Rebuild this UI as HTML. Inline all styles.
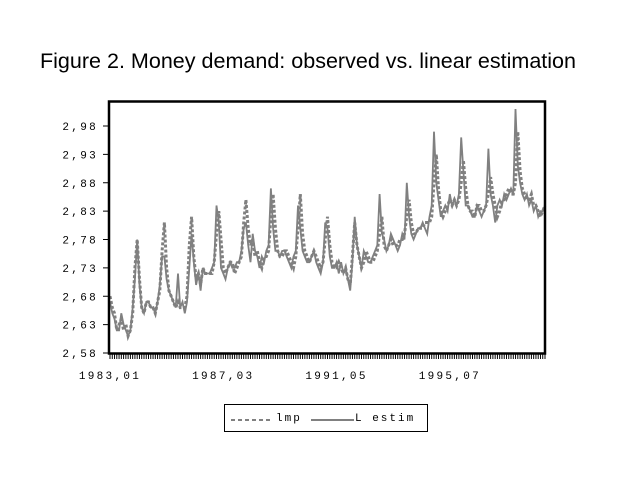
<!DOCTYPE html>
<html><head><meta charset="utf-8"><style>
html,body{margin:0;padding:0;background:#fff;}
svg{display:block;}
</style></head><body>
<svg id="chart" width="637" height="502" viewBox="0 0 637 502" xmlns="http://www.w3.org/2000/svg">
<text x="40" y="68" font-family="Liberation Sans, sans-serif" font-size="21.5" textLength="536" lengthAdjust="spacingAndGlyphs" fill="#000">Figure 2. Money demand: observed vs. linear estimation</text>
<g id="ticks"></g>
<g id="series"></g>
<rect x="109" y="101.5" width="436" height="252" fill="none" stroke="#000" stroke-width="2.5"/>
<g>
<rect x="224.5" y="404.5" width="203" height="27" fill="#fff" stroke="#000" stroke-width="1"/>
<line x1="231" y1="420" x2="272" y2="420" stroke="#808080" stroke-width="2" stroke-dasharray="4,3"/>
<text x="276" y="421" font-family="Liberation Mono, monospace" font-size="11" letter-spacing="2" fill="#000">lmp</text>
<line x1="311" y1="420" x2="354" y2="420" stroke="#808080" stroke-width="2"/>
<text x="355" y="421" font-family="Liberation Mono, monospace" font-size="11" letter-spacing="2" fill="#000">L estim</text>
</g>
</svg>
<script>
const yTicks=[2.58,2.63,2.68,2.73,2.78,2.83,2.88,2.93,2.98];
const xLabels=["1983,01","1987,03","1991,05","1995,07"];
const xLabelIdx=[0,50,100,150];
const lmp=[2.68,2.66,2.65,2.62,2.63,2.64,2.62,2.63,2.61,2.62,2.65,2.73,
2.78,2.71,2.66,2.65,2.67,2.67,2.66,2.66,2.65,2.67,2.69,2.76,
2.81,2.73,2.69,2.68,2.67,2.66,2.67,2.66,2.66,2.66,2.68,2.77,
2.82,2.75,2.71,2.72,2.70,2.73,2.72,2.72,2.72,2.72,2.74,2.79,
2.83,2.78,2.73,2.72,2.73,2.74,2.74,2.72,2.73,2.74,2.75,2.81,
2.85,2.80,2.77,2.78,2.75,2.76,2.74,2.73,2.75,2.75,2.76,2.82,
2.86,2.80,2.76,2.75,2.75,2.76,2.76,2.75,2.74,2.73,2.75,2.80,
2.86,2.79,2.76,2.75,2.74,2.75,2.76,2.75,2.74,2.73,2.74,2.78,
2.82,2.77,2.74,2.73,2.73,2.74,2.73,2.72,2.73,2.71,2.70,2.75,
2.81,2.77,2.75,2.73,2.74,2.76,2.75,2.74,2.74,2.75,2.76,2.79,
2.82,2.77,2.76,2.77,2.78,2.77,2.77,2.77,2.78,2.78,2.79,2.82,
2.85,2.81,2.79,2.79,2.80,2.80,2.80,2.81,2.81,2.81,2.82,2.88,
2.93,2.87,2.83,2.82,2.83,2.84,2.85,2.84,2.85,2.84,2.85,2.88,
2.92,2.87,2.84,2.83,2.83,2.82,2.84,2.84,2.83,2.83,2.84,2.86,
2.89,2.86,2.84,2.82,2.83,2.85,2.85,2.86,2.87,2.86,2.86,2.88,
2.97,2.90,2.87,2.86,2.85,2.85,2.86,2.84,2.84,2.83,2.82,2.83,2.84];
const estim=[2.67,2.65,2.64,2.62,2.62,2.65,2.63,2.62,2.61,2.62,2.66,2.71,
2.78,2.70,2.66,2.65,2.67,2.67,2.66,2.66,2.65,2.67,2.70,2.75,
2.75,2.71,2.69,2.68,2.67,2.66,2.72,2.66,2.67,2.65,2.67,2.73,
2.79,2.74,2.70,2.72,2.69,2.73,2.72,2.72,2.72,2.73,2.74,2.84,
2.81,2.73,2.72,2.71,2.73,2.74,2.73,2.73,2.74,2.74,2.76,2.80,
2.81,2.77,2.74,2.79,2.76,2.75,2.73,2.75,2.74,2.76,2.77,2.87,
2.80,2.76,2.76,2.75,2.76,2.76,2.75,2.74,2.73,2.75,2.76,2.84,
2.80,2.76,2.75,2.74,2.74,2.75,2.76,2.74,2.73,2.72,2.74,2.81,
2.80,2.75,2.73,2.73,2.74,2.72,2.74,2.72,2.73,2.71,2.69,2.74,
2.82,2.77,2.75,2.73,2.76,2.75,2.74,2.74,2.75,2.76,2.77,2.86,
2.79,2.78,2.76,2.77,2.79,2.78,2.77,2.76,2.77,2.79,2.78,2.88,
2.82,2.79,2.78,2.79,2.80,2.80,2.81,2.80,2.79,2.82,2.84,2.97,
2.88,2.85,2.82,2.83,2.84,2.83,2.86,2.84,2.85,2.84,2.86,2.96,
2.90,2.84,2.84,2.83,2.82,2.82,2.84,2.83,2.82,2.83,2.84,2.94,
2.86,2.84,2.81,2.84,2.85,2.84,2.86,2.85,2.86,2.87,2.86,3.01,
2.91,2.88,2.86,2.85,2.86,2.84,2.85,2.83,2.84,2.82,2.83,2.83,2.84];

const NS="http://www.w3.org/2000/svg";
const X0=110,X1=545,Yb=353,Ymin=2.58,pxPer=567.5;
const n=lmp.length;
function xs(i){return X0+(X1-X0)*i/(n-1);}
function ys(v){return Yb-(v-Ymin)*pxPer;}
const tg=document.getElementById('ticks');
yTicks.forEach(v=>{
  const l=document.createElementNS(NS,'line');
  
  
  l.setAttribute('x1',103);l.setAttribute('x2',109);
  l.setAttribute('y1',ys(v));l.setAttribute('y2',ys(v));
  l.setAttribute('stroke','#000');l.setAttribute('stroke-width','1');
  tg.appendChild(l);
  const t=document.createElementNS(NS,'text');
  
  
  t.setAttribute('x',98);t.setAttribute('y',ys(v)+4);
  t.setAttribute('text-anchor','end');
  t.setAttribute('font-family','Liberation Mono, monospace');
  t.setAttribute('font-size','11');t.setAttribute('letter-spacing','2.3');
  t.textContent=v.toFixed(2).replace('.',',');
  tg.appendChild(t);
});
for(let i=0;i<n;i++){
  const l=document.createElementNS(NS,'line');
  
  
  l.setAttribute('x1',xs(i));l.setAttribute('x2',xs(i));
  l.setAttribute('y1',353);l.setAttribute('y2',359);
  l.setAttribute('stroke','#000');l.setAttribute('stroke-width','1');
  tg.appendChild(l);
}
xLabels.forEach((s,k)=>{
  const t=document.createElementNS(NS,'text');
  
  
  t.setAttribute('x',xs(xLabelIdx[k]));t.setAttribute('y',379);
  t.setAttribute('text-anchor','middle');
  t.setAttribute('font-family','Liberation Mono, monospace');
  t.setAttribute('font-size','11');t.setAttribute('letter-spacing','2.3');
  t.textContent=s;
  tg.appendChild(t);
});
const sg=document.getElementById('series');
function path(arr,name,dash,w){
  const p=document.createElementNS(NS,'path');
  
  
  p.setAttribute('d',arr.map((v,i)=>(i?'L':'M')+xs(i).toFixed(1)+','+ys(v).toFixed(1)).join(''));
  p.setAttribute('fill','none');p.setAttribute('stroke','#808080');
  p.setAttribute('stroke-width',w);
  if(dash)p.setAttribute('stroke-dasharray',dash);
  sg.appendChild(p);
}
path(lmp,'lmp-line','3,2',3);
path(estim,'estim-line',null,1.8);
</script>
</body></html>
